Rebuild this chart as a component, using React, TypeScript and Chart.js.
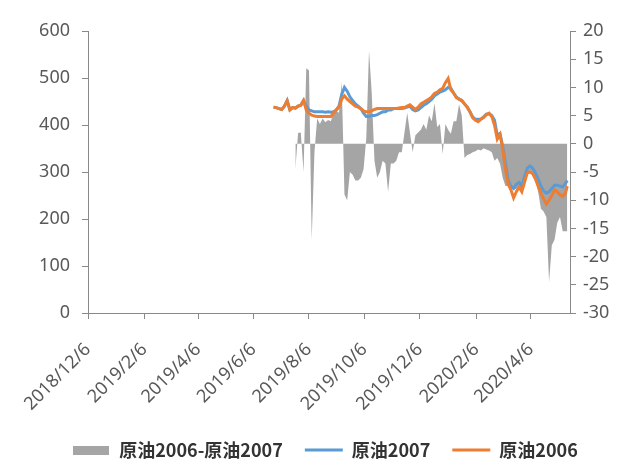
import { useEffect, useRef } from 'react';
import { Chart, registerables } from 'chart.js';

Chart.register(...registerables);

// Category dates (trading snapshots)
const dates = [
  '2019/6/28', '2019/7/1', '2019/7/4', '2019/7/7', '2019/7/10', '2019/7/13', '2019/7/16', '2019/7/19', '2019/7/22', '2019/7/25', '2019/7/28', '2019/7/31',
  '2019/8/3', '2019/8/6', '2019/8/9', '2019/8/12', '2019/8/15', '2019/8/18', '2019/8/21', '2019/8/24', '2019/8/27', '2019/8/30',
  '2019/9/2', '2019/9/5', '2019/9/8', '2019/9/11', '2019/9/14', '2019/9/17', '2019/9/20', '2019/9/23', '2019/9/26', '2019/9/29',
  '2019/10/2', '2019/10/5', '2019/10/8', '2019/10/11', '2019/10/14', '2019/10/17', '2019/10/20', '2019/10/23', '2019/10/26', '2019/10/29',
  '2019/11/1', '2019/11/4', '2019/11/7', '2019/11/10', '2019/11/13', '2019/11/16', '2019/11/19', '2019/11/22', '2019/11/25', '2019/11/28',
  '2019/12/1', '2019/12/4', '2019/12/7', '2019/12/10', '2019/12/13', '2019/12/16', '2019/12/19', '2019/12/22', '2019/12/25', '2019/12/28', '2019/12/31',
  '2020/1/3', '2020/1/6', '2020/1/9', '2020/1/12', '2020/1/15', '2020/1/18', '2020/1/21', '2020/1/24', '2020/1/27', '2020/1/30',
  '2020/2/2', '2020/2/5', '2020/2/8', '2020/2/11', '2020/2/14', '2020/2/17', '2020/2/20', '2020/2/23', '2020/2/26', '2020/2/29',
  '2020/3/3', '2020/3/6', '2020/3/9', '2020/3/12', '2020/3/15', '2020/3/18', '2020/3/21', '2020/3/24', '2020/3/27', '2020/3/30',
  '2020/4/2', '2020/4/5', '2020/4/8', '2020/4/11', '2020/4/14', '2020/4/17', '2020/4/20', '2020/4/23', '2020/4/26', '2020/4/29',
  '2020/5/2', '2020/5/5', '2020/5/8', '2020/5/11', '2020/5/14', '2020/5/16',
];

// 原油2007 (left axis)
const crude2007 = [
  438, 437, 435, 433, 440, 452, 432, 437, 436, 440, 442, 452,
  440, 432, 430, 428, 428, 428, 428, 427, 428, 427,
  428, 432, 440, 465, 480, 472, 460, 452, 445, 440,
  435, 425, 418, 418, 420, 420, 422, 425, 428, 428,
  432, 432, 435, 435, 435, 435, 436, 438, 440, 433,
  430, 432, 437, 442, 445, 450, 455, 462, 466, 470, 472,
  475, 480, 478, 468, 460, 455, 452, 445, 438, 428,
  417, 412, 412, 413, 417, 423, 424, 420, 410, 378,
  382, 355, 318, 282, 270, 265, 274, 278, 270, 290,
  308, 313, 308, 298, 285, 270, 260, 255, 258, 265,
  272, 272, 270, 268, 276, 282,
];

// 原油2006 (left axis)
const crude2006 = [
  438, 437, 435, 433, 440, 452, 432, 437, 436, 440, 442, 452,
  432, 425, 421, 419, 418, 418, 418, 418, 418, 418,
  425, 432, 438, 455, 462, 455, 450, 445, 440, 438,
  435, 430, 428, 428, 430, 433, 435, 435, 435, 435,
  435, 435, 435, 435, 436, 437, 437, 440, 443, 438,
  433, 438, 445, 448, 452, 455, 460, 467, 470, 475, 478,
  490, 499, 475, 468, 458, 455, 452, 445, 438, 428,
  415, 410, 407, 412, 416, 422, 425, 418, 400, 370,
  380, 350, 305, 274, 262, 245, 258, 268, 258, 278,
  298, 300, 296, 285, 270, 255, 243, 232, 240, 250,
  262, 258, 251, 248, 255, 270,
];

// 原油2006-原油2007 (right axis)
const spread = [
  null, null, null, null, null, null, null, null, -4.5, 1.9, 2.0, -5,
  13.4, 13.0, -17, -1.5, 4.5, 3.5, 4.5, 3.8, 4.2, 4.0,
  5.5, 5.8, 5.5, 11, -9, -10, -5, -5.5, -6.5, -6.5,
  -6, -4.5, 1, 16.5, 9, -3, -6, -5, -3, -3.5,
  -8.5, -3.5, -3.5, -3, -1.5, -1.5, 2.0, 5.5, 2.0, -1.5,
  1.5, 2.0, 2.5, 3.5, 2.5, 5, 4, 7.2, 3, 3.5, -1.8,
  3.5, 2.5, 1.8, 4, 4, 7.0, 5, -2.5, -2.0, -1.8,
  -1.5, -1.3, -1.0, -1.2, -0.8, -1.0, -1.2, -1.5, -3, -2.5,
  -3.5, -6, -7.5, -7.5, -8, -8, -8, -7.5, -8, -6.5,
  -5.5, -5, -5.5, -6.5, -8.5, -11.5, -12, -13, -24.5, -18,
  -17, -14, -13, -15.5, -15.5, -15.5,
];

const xTickLabels = ['2018/12/6', '2019/2/6', '2019/4/6', '2019/6/6', '2019/8/6', '2019/10/6', '2019/12/6', '2020/2/6', '2020/4/6'];
const X_START = '2018/12/6';
const X_END = '2020/5/19';
const leftRange = [0, 600, 100];
const rightRange = [-30, 20, 5];

const seriesNames = ['原油2006-原油2007', '原油2007', '原油2006'];
const seriesColors = ['#A5A5A5', '#5B9BD5', '#ED7D31'];

const toUTC = (s: string) => {
  const [y, m, d] = s.split('/').map(Number);
  return Date.UTC(y, m - 1, d);
};
const BASE = toUTC(X_START);
const dayOf = (s: string) => Math.round((toUTC(s) - BASE) / 86400000);
const labelOf = (n: number) => {
  const dt = new Date(BASE + n * 86400000);
  return `${dt.getUTCFullYear()}/${dt.getUTCMonth() + 1}/${dt.getUTCDate()}`;
};

const W = 630;
const H = 475;
const PLOT_BOTTOM = 313;
const PAD_BOTTOM = 6;

export default function App() {
  const ref = useRef<HTMLCanvasElement>(null);

  useEffect(() => {
    if (!ref.current) return;
    const swatch = document.createElement('canvas');
    swatch.width = 36;
    swatch.height = 9;
    const sctx = swatch.getContext('2d')!;
    sctx.fillStyle = seriesColors[0];
    sctx.fillRect(0, 0, 36, 9);

    const xs = dates.map(dayOf);
    const tickFont = { family: "'Noto Sans', sans-serif", size: 18 };
    const axisColor = '#898989';

    const legendShift = {
      id: 'legendShift',
      afterLayout(chart: any) {
        if (chart.legend) {
          chart.legend.left += 10;
          chart.legend.right += 10;
        }
      },
    };

    const chart = new Chart(ref.current, {
      type: 'line',
      data: {
        datasets: [
          {
            label: seriesNames[0],
            data: xs.map((x, i) => ({ x, y: spread[i] })),
            yAxisID: 'y1',
            borderWidth: 0,
            borderColor: seriesColors[0],
            backgroundColor: seriesColors[0],
            fill: 'origin',
            pointRadius: 0,
            pointStyle: swatch as any,
            tension: 0,
            order: 3,
          },
          {
            label: seriesNames[1],
            data: xs.map((x, i) => ({ x, y: crude2007[i] })),
            yAxisID: 'y',
            borderWidth: 3,
            borderColor: seriesColors[1],
            backgroundColor: seriesColors[1],
            fill: false,
            pointRadius: 0,
            pointStyle: 'line',
            tension: 0,
            order: 2,
          },
          {
            label: seriesNames[2],
            data: xs.map((x, i) => ({ x, y: crude2006[i] })),
            yAxisID: 'y',
            borderWidth: 3,
            borderColor: seriesColors[2],
            backgroundColor: seriesColors[2],
            fill: false,
            pointRadius: 0,
            pointStyle: 'line',
            tension: 0,
            order: 1,
          },
        ],
      },
      options: {
        responsive: false,
        animation: false,
        layout: { padding: { top: 31, left: 0, right: 0, bottom: PAD_BOTTOM } },
        plugins: {
          tooltip: { enabled: false },
          legend: {
            position: 'bottom',
            labels: {
              usePointStyle: true,
              pointStyleWidth: 38,
              padding: 22,
              color: '#333333',
              font: { family: "'Noto Sans CJK SC', sans-serif", size: 18, weight: 'bold' },
              sort: (a: any, b: any) => a.datasetIndex - b.datasetIndex,
            },
          },
        },
        scales: {
          x: {
            type: 'linear',
            position: 'bottom',
            min: 0,
            max: dayOf(X_END),
            afterBuildTicks: (s: any) => {
              s.ticks = xTickLabels.map((t) => ({ value: dayOf(t) }));
            },
            afterFit: (s: any) => {
              const lg = s.chart.legend;
              s.height = H - PLOT_BOTTOM - (lg ? lg.height : 0) - PAD_BOTTOM;
            },
            ticks: {
              autoSkip: false,
              minRotation: 45,
              maxRotation: 45,
              padding: 20,
              color: '#595959',
              font: tickFont,
              callback: (v: any) => labelOf(Number(v)),
            },
            grid: { display: true, drawOnChartArea: false, drawTicks: true, tickLength: 6, color: axisColor },
            border: { display: true, color: axisColor, width: 1 },
          },
          y: {
            position: 'left',
            min: leftRange[0],
            max: leftRange[1],
            afterFit: (s: any) => {
              s.width = 88;
            },
            ticks: { stepSize: leftRange[2], padding: 12, color: '#595959', font: tickFont },
            grid: { display: true, drawOnChartArea: false, drawTicks: true, tickLength: 6, color: axisColor },
            border: { display: true, color: axisColor, width: 1 },
          },
          y1: {
            position: 'right',
            min: rightRange[0],
            max: rightRange[1],
            afterFit: (s: any) => {
              s.width = W - 570;
            },
            ticks: { stepSize: rightRange[2], padding: 7, color: '#595959', font: tickFont },
            grid: { display: true, drawOnChartArea: false, drawTicks: true, tickLength: 6, color: axisColor },
            border: { display: true, color: axisColor, width: 1 },
          },
        },
      },
      plugins: [legendShift],
    });
    return () => chart.destroy();
  }, []);

  return (
    <div style={{ position: 'fixed', left: 0, top: 0, width: W, height: H, background: '#ffffff' }}>
      <canvas ref={ref} width={W} height={H} style={{ width: W, height: H }} />
    </div>
  );
}
